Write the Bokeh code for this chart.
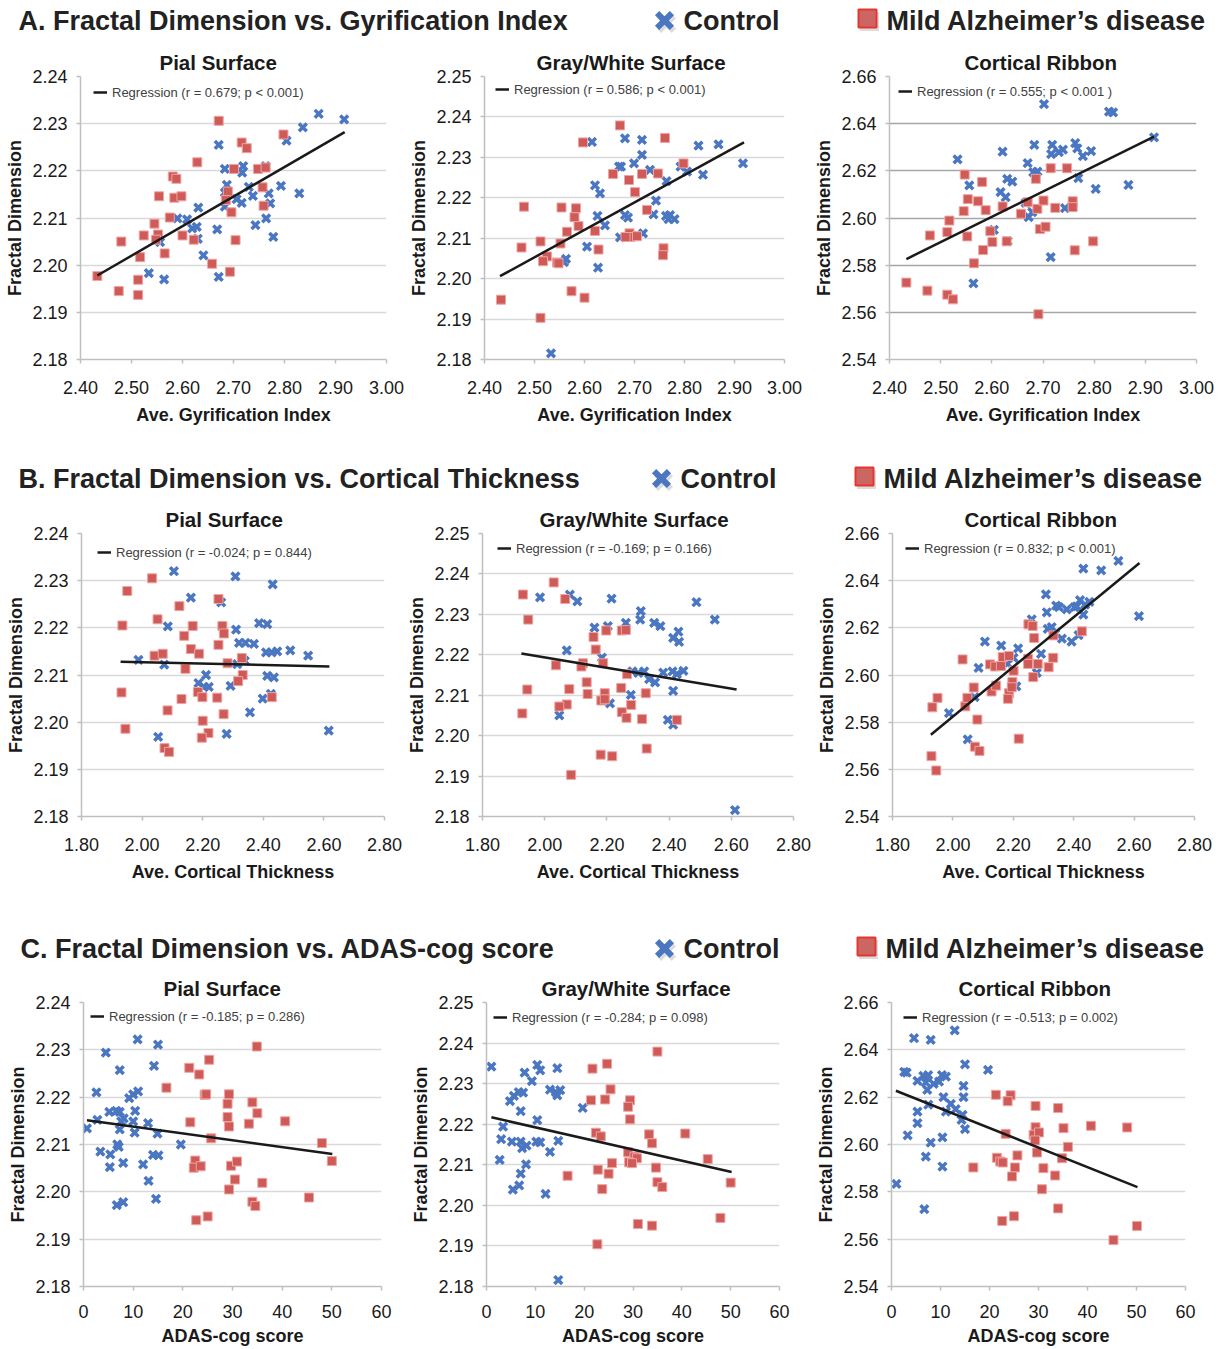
from bokeh.plotting import figure
from bokeh.layouts import column, row
from bokeh.models import Range1d, FixedTicker, NumeralTickFormatter, Legend, LegendItem
from bokeh.embed import file_html
from bokeh.resources import INLINE
from bokeh.core.properties import value

FONT = "Liberation Sans"
BLUE = "#4A76C2"
RED = "#CF5B58"
RED_EDGE = "#EFA4A2"
TXT = "#1a1a1a"

# ---------------- shared tick labels ----------------
gi_ticks = [2.40, 2.50, 2.60, 2.70, 2.80, 2.90, 3.00]
ct_ticks = [1.80, 2.00, 2.20, 2.40, 2.60, 2.80]
adas_ticks = [0, 10, 20, 30, 40, 50, 60]
pial_ticks = [2.18, 2.19, 2.20, 2.21, 2.22, 2.23, 2.24]
gw_ticks = [2.18, 2.19, 2.20, 2.21, 2.22, 2.23, 2.24, 2.25]
rib_ticks = [2.54, 2.56, 2.58, 2.60, 2.62, 2.64, 2.66]

# ---------------- A: gyrification index ----------------
A_pial_ctl_x = [2.867, 2.917, 2.836, 2.804, 2.671, 2.683, 2.719, 2.717, 2.763, 2.687, 2.730, 2.793, 2.738, 2.829, 2.769, 2.683, 2.706, 2.716, 2.772, 2.683, 2.631, 2.590, 2.609, 2.764, 2.619, 2.628, 2.668, 2.743, 2.630, 2.556, 2.778, 2.641, 2.534, 2.564, 2.671]
A_pial_ctl_y = [2.2321, 2.2309, 2.2292, 2.2264, 2.2255, 2.2204, 2.2210, 2.2196, 2.2210, 2.2170, 2.2166, 2.2168, 2.2147, 2.2152, 2.2152, 2.2154, 2.2140, 2.2132, 2.2131, 2.2124, 2.2122, 2.2099, 2.2097, 2.2099, 2.2078, 2.2081, 2.2076, 2.2085, 2.2056, 2.2049, 2.2060, 2.2021, 2.1983, 2.1970, 2.1975]
A_pial_ad_x = [2.671, 2.716, 2.726, 2.798, 2.629, 2.581, 2.588, 2.554, 2.584, 2.598, 2.701, 2.748, 2.763, 2.757, 2.689, 2.685, 2.759, 2.696, 2.575, 2.545, 2.524, 2.552, 2.600, 2.548, 2.622, 2.704, 2.480, 2.565, 2.517, 2.658, 2.693, 2.433, 2.513, 2.475, 2.513]
A_pial_ad_y = [2.2306, 2.2260, 2.2248, 2.2277, 2.2218, 2.2188, 2.2183, 2.2146, 2.2143, 2.2146, 2.2204, 2.2204, 2.2207, 2.2165, 2.2156, 2.2138, 2.2126, 2.2112, 2.2101, 2.2088, 2.2063, 2.2065, 2.2063, 2.2054, 2.2054, 2.2053, 2.2050, 2.2025, 2.2017, 2.2003, 2.1986, 2.1977, 2.1969, 2.1945, 2.1937]
A_pial_reg_x = [2.433, 2.918]
A_pial_reg_y = [2.1978, 2.2282]

A_gw_ctl_x = [2.615, 2.681, 2.715, 2.715, 2.868, 2.828, 2.917, 2.669, 2.673, 2.699, 2.731, 2.792, 2.805, 2.837, 2.764, 2.621, 2.631, 2.743, 2.626, 2.641, 2.681, 2.687, 2.738, 2.763, 2.768, 2.780, 2.771, 2.671, 2.717, 2.605, 2.563, 2.559, 2.627, 2.533]
A_gw_ctl_y = [2.2338, 2.2347, 2.2343, 2.2306, 2.2332, 2.2329, 2.2285, 2.2277, 2.2277, 2.2285, 2.2269, 2.2277, 2.2265, 2.2257, 2.2241, 2.2231, 2.2211, 2.2193, 2.2155, 2.2132, 2.2157, 2.2151, 2.2159, 2.2155, 2.2147, 2.2147, 2.2157, 2.2102, 2.2112, 2.2079, 2.2049, 2.2041, 2.2027, 2.1815]
A_gw_ad_x = [2.671, 2.597, 2.761, 2.798, 2.657, 2.715, 2.747, 2.689, 2.701, 2.479, 2.554, 2.583, 2.580, 2.725, 2.588, 2.565, 2.621, 2.474, 2.512, 2.552, 2.628, 2.758, 2.757, 2.525, 2.517, 2.545, 2.548, 2.690, 2.692, 2.705, 2.682, 2.433, 2.574, 2.600, 2.512]
A_gw_ad_y = [2.2379, 2.2337, 2.2348, 2.2285, 2.2259, 2.2259, 2.2260, 2.2244, 2.2214, 2.2178, 2.2176, 2.2174, 2.2152, 2.2170, 2.2130, 2.2116, 2.2118, 2.2077, 2.2092, 2.2087, 2.2072, 2.2075, 2.2058, 2.2055, 2.2043, 2.2040, 2.2038, 2.2112, 2.2103, 2.2105, 2.2103, 2.1948, 2.1969, 2.1953, 2.1903]
A_gw_reg_x = [2.431, 2.919]
A_gw_reg_y = [2.2006, 2.2337]

A_rib_ctl_x = [2.702, 2.829, 2.837, 2.917, 2.533, 2.621, 2.683, 2.718, 2.716, 2.731, 2.739, 2.763, 2.767, 2.778, 2.794, 2.769, 2.670, 2.681, 2.689, 2.556, 2.617, 2.627, 2.630, 2.640, 2.666, 2.672, 2.679, 2.743, 2.803, 2.867, 2.604, 2.631, 2.715, 2.564]
A_rib_ctl_y = [2.6483, 2.6451, 2.6448, 2.6342, 2.6249, 2.6281, 2.6310, 2.6310, 2.6271, 2.6279, 2.6290, 2.6318, 2.6295, 2.6262, 2.6284, 2.6169, 2.6233, 2.6194, 2.6197, 2.6138, 2.6110, 2.6088, 2.6166, 2.6154, 2.6064, 2.6004, 2.6025, 2.6042, 2.6123, 2.6140, 2.5950, 2.5902, 2.5834, 2.5723]
A_rib_ad_x = [2.433, 2.474, 2.513, 2.524, 2.479, 2.513, 2.517, 2.545, 2.547, 2.553, 2.552, 2.573, 2.581, 2.588, 2.583, 2.565, 2.597, 2.601, 2.621, 2.629, 2.657, 2.670, 2.686, 2.689, 2.694, 2.701, 2.705, 2.715, 2.724, 2.747, 2.758, 2.758, 2.762, 2.798, 2.691]
A_rib_ad_y = [2.5726, 2.5692, 2.5675, 2.5655, 2.5926, 2.5940, 2.5989, 2.6029, 2.6184, 2.6080, 2.5922, 2.6071, 2.6153, 2.6033, 2.5864, 2.5808, 2.5944, 2.5898, 2.6049, 2.5901, 2.6018, 2.6067, 2.6166, 2.6039, 2.5953, 2.6074, 2.5963, 2.6211, 2.6043, 2.6211, 2.6071, 2.6046, 2.5863, 2.5901, 2.5592]
A_rib_reg_x = [2.433, 2.917]
A_rib_reg_y = [2.5826, 2.6345]

# ---------------- B: cortical thickness ----------------
B_pial_ctl_x = [2.105, 2.308, 2.431, 2.161, 2.261, 2.085, 2.310, 2.386, 2.413, 2.320, 2.341, 2.369, 2.409, 2.428, 2.446, 2.489, 2.548, 1.988, 2.073, 2.314, 2.339, 2.211, 2.186, 2.204, 2.220, 2.292, 2.413, 2.435, 2.398, 2.425, 2.356, 2.053, 2.279, 2.616]
B_pial_ctl_y = [2.2320, 2.2309, 2.2292, 2.2264, 2.2254, 2.2203, 2.2196, 2.2210, 2.2208, 2.2168, 2.2168, 2.2166, 2.2148, 2.2148, 2.2150, 2.2152, 2.2141, 2.2132, 2.2122, 2.2123, 2.2130, 2.2100, 2.2083, 2.2075, 2.2075, 2.2077, 2.2098, 2.2095, 2.2050, 2.2060, 2.2021, 2.1969, 2.1975, 2.1982]
B_pial_ad_x = [2.033, 1.951, 2.123, 1.935, 2.051, 2.167, 2.139, 2.161, 2.188, 2.041, 2.068, 2.143, 2.252, 2.265, 2.270, 2.252, 2.282, 2.329, 2.332, 2.317, 1.932, 2.184, 2.199, 2.130, 2.248, 2.428, 2.084, 2.269, 2.200, 1.945, 2.219, 2.197, 2.074, 2.089]
B_pial_ad_y = [2.2305, 2.2278, 2.2246, 2.2205, 2.2218, 2.2204, 2.2183, 2.2155, 2.2145, 2.2141, 2.2145, 2.2113, 2.2261, 2.2204, 2.2188, 2.2164, 2.2125, 2.2136, 2.2100, 2.2087, 2.2063, 2.2064, 2.2053, 2.2049, 2.2052, 2.2053, 2.2025, 2.2017, 2.2003, 2.1986, 2.1977, 2.1967, 2.1945, 2.1937]
B_pial_reg_x = [1.929, 2.618]
B_pial_reg_y = [2.2128, 2.2118]

B_gw_ctl_x = [1.985, 2.081, 2.105, 2.215, 2.488, 2.309, 2.307, 2.547, 2.160, 2.203, 2.261, 2.352, 2.372, 2.413, 2.430, 2.432, 2.071, 2.184, 2.282, 2.301, 2.320, 2.336, 2.355, 2.381, 2.411, 2.425, 2.446, 2.277, 2.210, 2.413, 2.047, 2.396, 2.413, 2.612]
B_gw_ctl_y = [2.2342, 2.2349, 2.2332, 2.2339, 2.2330, 2.2308, 2.2287, 2.2287, 2.2267, 2.2271, 2.2279, 2.2279, 2.2271, 2.2242, 2.2257, 2.2232, 2.2211, 2.2193, 2.2159, 2.2155, 2.2159, 2.2140, 2.2132, 2.2156, 2.2159, 2.2152, 2.2160, 2.2101, 2.2080, 2.2111, 2.2050, 2.2039, 2.2027, 2.1816]
B_gw_ad_x = [2.029, 1.930, 2.066, 1.947, 2.198, 2.248, 2.261, 2.157, 2.164, 2.036, 2.123, 2.118, 2.188, 2.265, 2.135, 1.944, 2.079, 2.138, 2.246, 2.193, 2.325, 2.182, 2.193, 2.071, 2.047, 2.278, 1.928, 2.248, 2.263, 2.313, 2.425, 2.328, 2.180, 2.217, 2.085]
B_gw_ad_y = [2.2379, 2.2349, 2.2338, 2.2287, 2.2260, 2.2260, 2.2261, 2.2244, 2.2213, 2.2174, 2.2179, 2.2171, 2.2179, 2.2152, 2.2132, 2.2114, 2.2115, 2.2103, 2.2118, 2.2105, 2.2105, 2.2087, 2.2090, 2.2077, 2.2072, 2.2076, 2.2055, 2.2058, 2.2044, 2.2041, 2.2039, 2.1968, 2.1953, 2.1949, 2.1903]
B_gw_reg_x = [1.925, 2.617]
B_gw_reg_y = [2.2203, 2.2114]

B_rib_ctl_x = [2.548, 2.432, 2.491, 2.308, 2.616, 2.261, 2.311, 2.351, 2.377, 2.403, 2.421, 2.438, 2.452, 2.432, 2.410, 2.314, 2.327, 2.339, 2.361, 2.393, 2.416, 2.106, 2.160, 2.216, 2.201, 2.181, 2.292, 2.085, 2.278, 2.210, 2.072, 1.987, 2.049, 2.342]
B_rib_ctl_y = [2.6484, 2.6451, 2.6444, 2.6342, 2.6250, 2.6236, 2.6266, 2.6288, 2.6278, 2.6288, 2.6317, 2.6298, 2.6310, 2.6256, 2.6291, 2.6196, 2.6203, 2.6175, 2.6154, 2.6142, 2.6169, 2.6142, 2.6125, 2.6113, 2.6073, 2.6047, 2.6090, 2.6030, 2.6009, 2.5952, 2.5906, 2.5838, 2.5727, 2.6294]
B_rib_ad_x = [2.032, 1.932, 1.949, 1.929, 1.945, 2.041, 2.048, 2.069, 2.081, 2.073, 2.088, 2.123, 2.140, 2.128, 2.143, 2.165, 2.159, 2.186, 2.201, 2.197, 2.186, 2.182, 2.218, 2.250, 2.264, 2.269, 2.249, 2.249, 2.281, 2.266, 2.317, 2.332, 2.333, 2.427, 2.195]
B_rib_ad_y = [2.6066, 2.5863, 2.5903, 2.5656, 2.5595, 2.5867, 2.5903, 2.5947, 2.5811, 2.5696, 2.5678, 2.6045, 2.6036, 2.5930, 2.5955, 2.6076, 2.6038, 2.6081, 2.6018, 2.5970, 2.5923, 2.5899, 2.5730, 2.6215, 2.6208, 2.6157, 2.6069, 2.6047, 2.6047, 2.5991, 2.6033, 2.6073, 2.6168, 2.6185, 2.5948]
B_rib_reg_x = [1.927, 2.618]
B_rib_reg_y = [2.5747, 2.6475]

# ---------------- C: ADAS-cog ----------------
C_pial_ctl_x = [10.9, 15.0, 4.5, 14.2, 7.3, 2.6, 11.0, 10.0, 9.2, 0.7, 2.8, 5.2, 6.6, 7.3, 8.1, 10.4, 7.6, 10.0, 13.0, 7.3, 10.3, 14.9, 3.4, 5.4, 6.8, 7.1, 8.0, 12.0, 14.0, 15.1, 5.3, 13.1, 19.6, 14.6, 6.7, 8.0]
C_pial_ctl_y = [2.2322, 2.2311, 2.2294, 2.2266, 2.2257, 2.2210, 2.2212, 2.2206, 2.2198, 2.2134, 2.2152, 2.2169, 2.2171, 2.2169, 2.2155, 2.2171, 2.2149, 2.2149, 2.2145, 2.2132, 2.2125, 2.2123, 2.2085, 2.2079, 2.2100, 2.2095, 2.2061, 2.2058, 2.2078, 2.2077, 2.2052, 2.2023, 2.2100, 2.1985, 2.1972, 2.1978]
C_pial_ad_x = [34.9, 25.3, 21.3, 23.3, 16.7, 24.4, 24.7, 29.3, 29.0, 34.0, 35.0, 21.5, 29.0, 29.3, 33.3, 40.6, 25.7, 48.0, 50.0, 22.5, 22.2, 23.6, 29.7, 30.9, 30.5, 29.3, 36.0, 34.0, 34.6, 45.4, 22.7, 25.0]
C_pial_ad_y = [2.2307, 2.2279, 2.2262, 2.2248, 2.2220, 2.2205, 2.2206, 2.2206, 2.2186, 2.2189, 2.2166, 2.2147, 2.2158, 2.2138, 2.2144, 2.2149, 2.2113, 2.2103, 2.2065, 2.2066, 2.2051, 2.2054, 2.2055, 2.2064, 2.2026, 2.2005, 2.2019, 2.1979, 2.1970, 2.1988, 2.1940, 2.1948]
C_pial_reg_x = [0.7, 50.1]
C_pial_reg_y = [2.2151, 2.2080]

C_gw_ctl_x = [1.0, 10.4, 14.5, 7.8, 11.0, 9.3, 13.0, 15.1, 14.5, 4.8, 5.6, 6.6, 7.5, 7.0, 19.7, 10.4, 3.4, 3.0, 5.2, 7.0, 7.3, 8.2, 10.2, 11.0, 14.7, 13.0, 2.7, 8.1, 7.0, 6.7, 5.4, 12.1, 14.7, 14.2]
C_gw_ctl_y = [2.2342, 2.2346, 2.2338, 2.2327, 2.2333, 2.2306, 2.2285, 2.2284, 2.2271, 2.2257, 2.2270, 2.2279, 2.2278, 2.2232, 2.2240, 2.2210, 2.2194, 2.2163, 2.2157, 2.2157, 2.2141, 2.2147, 2.2157, 2.2155, 2.2159, 2.2132, 2.2112, 2.2101, 2.2078, 2.2049, 2.2039, 2.2028, 2.1816, 2.2279]
C_gw_ad_x = [35.0, 21.7, 24.7, 25.4, 21.4, 24.3, 29.4, 29.0, 29.4, 22.4, 23.4, 33.3, 40.7, 33.9, 29.0, 30.3, 30.8, 45.3, 29.2, 29.8, 25.7, 34.7, 16.6, 22.8, 25.0, 35.0, 36.0, 50.0, 23.7, 47.9, 31.0, 33.9, 22.7]
C_gw_ad_y = [2.2379, 2.2337, 2.2349, 2.2286, 2.2259, 2.2261, 2.2259, 2.2243, 2.2212, 2.2179, 2.2170, 2.2175, 2.2177, 2.2153, 2.2131, 2.2120, 2.2116, 2.2114, 2.2106, 2.2104, 2.2104, 2.2093, 2.2073, 2.2088, 2.2078, 2.2057, 2.2045, 2.2056, 2.2040, 2.1969, 2.1954, 2.1950, 2.1904]
C_gw_reg_x = [1.0, 50.2]
C_gw_reg_y = [2.2217, 2.2082]

C_rib_ctl_x = [12.9, 4.6, 8.0, 15.0, 19.7, 2.6, 3.1, 6.5, 7.5, 10.3, 11.1, 5.3, 7.0, 8.6, 9.7, 7.3, 14.7, 10.6, 14.7, 12.1, 7.5, 11.1, 5.3, 13.1, 14.5, 14.3, 5.3, 15.0, 3.3, 10.4, 8.0, 7.0, 10.4, 1.0, 6.7]
C_rib_ctl_y = [2.6482, 2.6449, 2.6442, 2.6339, 2.6315, 2.6307, 2.6304, 2.6290, 2.6293, 2.6293, 2.6287, 2.6269, 2.6262, 2.6256, 2.6266, 2.6231, 2.6248, 2.6200, 2.6200, 2.6172, 2.6168, 2.6139, 2.6139, 2.6149, 2.6125, 2.6104, 2.6090, 2.6065, 2.6039, 2.6030, 2.6008, 2.5949, 2.5907, 2.5834, 2.5727]
C_rib_ad_x = [21.3, 24.3, 23.7, 29.4, 34.0, 29.4, 35.1, 40.7, 48.1, 23.3, 29.0, 30.1, 29.3, 36.0, 29.7, 21.5, 22.2, 22.7, 25.7, 34.8, 16.7, 25.2, 31.0, 24.6, 33.4, 30.7, 34.0, 22.6, 25.0, 50.1, 45.3]
C_rib_ad_y = [2.6210, 2.6208, 2.6183, 2.6163, 2.6154, 2.6073, 2.6069, 2.6079, 2.6072, 2.6045, 2.6041, 2.6051, 2.6017, 2.5990, 2.5966, 2.5944, 2.5928, 2.5924, 2.5954, 2.5942, 2.5903, 2.5903, 2.5900, 2.5865, 2.5869, 2.5811, 2.5730, 2.5677, 2.5697, 2.5656, 2.5596]
C_rib_reg_x = [0.9, 50.2]
C_rib_reg_y = [2.6227, 2.5820]

# ---------------- texts ----------------
section_titles = ["A. Fractal Dimension vs. Gyrification Index",
                  "B. Fractal Dimension vs. Cortical Thickness",
                  "C. Fractal Dimension vs. ADAS-cog score"]
group_names = ["Control", "Mild Alzheimer\u2019s disease"]
panel_titles = ["Pial Surface", "Gray/White Surface", "Cortical Ribbon"]
x_labels = ["Ave. Gyrification Index", "Ave. Cortical Thickness", "ADAS-cog score"]
y_label = "Fractal Dimension"
reg_labels = [
    ["Regression (r = 0.679; p < 0.001)", "Regression (r = 0.586; p < 0.001)", "Regression (r = 0.555; p < 0.001 )"],
    ["Regression (r = -0.024; p = 0.844)", "Regression (r = -0.169; p = 0.166)", "Regression (r = 0.832; p < 0.001)"],
    ["Regression (r = -0.185; p = 0.286)", "Regression (r = -0.284; p = 0.098)", "Regression (r = -0.513; p = 0.002)"],
]

# ---------------- layout parameters (pixels) ----------------
ROW_COL_W = [[404, 405, 413], [402, 410, 410], [401, 407, 414]]
ROW_H = [400, 397, 380]
ROW_TB = [(34, 83), (33, 81), (34, 62)]   # shared top / bottom border per row
HEAD_H = [42, 58, 71]
# per panel: min_border left, right, title left offset, legend x, legend y-center (from frame top)
GEOM = [
    [(80, 18, 79, 13, 16), (80, 25, 52, 11, 13), (80, 26, 75, 9, 15)],
    [(81, 18, 84, 16, 19), (80, 19, 57, 15, 15), (80, 28, 72, 13, 15)],
    [(83, 20, 80, 7, 14), (85, 29, 55, 7, 15), (83, 37, 67, 12, 15)],
]
HEAD_POS = [  # title x, center y, control key x, AD key x
    (18, 20, 664, 867),
    (18, 36, 661, 864),
    (20, 51, 664, 866),
]


def make_panel(r, c, title, xlabel, xr, xticks, xfmt, yr, yticks,
               cx, cy, ax_, ay_, rx, ry, reg_label, grid_color):
    ml, mr, toff, lx, lyc = GEOM[r][c]
    mt, mb = ROW_TB[r]
    w, h = ROW_COL_W[r][c], ROW_H[r]
    p = figure(width=w, height=h, x_range=Range1d(*xr), y_range=Range1d(*yr),
               output_backend="svg", toolbar_location=None, title=title,
               min_border_left=ml, min_border_right=mr, min_border_top=mt, min_border_bottom=mb)
    p.outline_line_color = None
    p.background_fill_color = "white"
    p.title.align = "left"
    p.title.offset = toff
    p.title.standoff = 5
    p.title.text_font = FONT
    p.title.text_font_size = "20.5px"
    p.title.text_font_style = "bold"
    p.title.text_color = TXT

    p.xaxis.ticker = FixedTicker(ticks=xticks)
    p.yaxis.ticker = FixedTicker(ticks=yticks)
    p.xaxis.formatter = NumeralTickFormatter(format=xfmt)
    p.yaxis.formatter = NumeralTickFormatter(format="0.00")
    p.xaxis.axis_label = xlabel
    p.yaxis.axis_label = y_label
    for axis in (p.xaxis[0], p.yaxis[0]):
        axis.major_tick_in = 0
        axis.major_tick_out = 4
        axis.minor_tick_in = 0
        axis.minor_tick_out = 0
        axis.axis_line_color = "#BFBFBF"
        axis.axis_line_width = 1.5
        axis.major_tick_line_color = "#BFBFBF"
        axis.major_tick_line_width = 1.5
        axis.major_label_text_font = FONT
        axis.major_label_text_font_size = "18px"
        axis.major_label_text_color = TXT
        axis.axis_label_text_font = FONT
        axis.axis_label_text_font_size = "18px"
        axis.axis_label_text_font_style = "bold"
        axis.axis_label_text_color = TXT
    p.yaxis.major_label_standoff = 9
    p.yaxis.axis_label_standoff = 4
    if r < 2:
        p.xaxis.major_label_standoff = 17
        p.xaxis.axis_label_standoff = 8
    else:
        p.xaxis.major_label_standoff = 14
        p.xaxis.axis_label_standoff = 5
    p.xgrid.visible = False
    p.ygrid.grid_line_color = grid_color
    p.ygrid.grid_line_width = 1.5

    p.scatter(cx, cy, marker="x", size=11, line_color=BLUE, line_width=3.5)
    p.scatter(ax_, ay_, marker="square", size=9, fill_color=RED, line_color=RED_EDGE, line_width=1)
    ln = p.line(rx, ry, line_color="#1a1a1a", line_width=2.5)

    frame_h = h - mt - mb
    legend = Legend(items=[LegendItem(label=reg_label, renderers=[ln])],
                    location=(lx, frame_h - lyc - 10),
                    border_line_color=None, background_fill_alpha=0,
                    padding=0, margin=0, spacing=0,
                    glyph_width=14, glyph_height=20, label_height=20, label_standoff=5,
                    label_text_font=FONT, label_text_font_size="13px", label_text_color="#404040")
    p.add_layout(legend)
    return p


def make_header(r):
    h = HEAD_H[r]
    tx, ty, kx1, kx2 = HEAD_POS[r]
    W = sum(ROW_COL_W[r])
    p = figure(width=W, height=h, x_range=Range1d(0, W), y_range=Range1d(h, 0),
               output_backend="svg", toolbar_location=None, x_axis_type=None, y_axis_type=None,
               min_border=0)
    p.outline_line_color = None
    p.grid.visible = False
    common = dict(text_font=value(FONT), text_font_size=value("27px"), text_font_style="bold",
                  text_color="#222222", text_baseline="middle", text_align="left")
    p.text(x=[tx], y=[ty], text=[section_titles[r]], **common)
    # legend keys with soft shadow
    p.scatter(x=[kx1 + 2], y=[ty + 3], marker="x", size=21, line_color="#9a9a9a", line_alpha=0.35, line_width=6)
    p.scatter(x=[kx1], y=[ty], marker="x", size=21, line_color=BLUE, line_width=6)
    p.text(x=[kx1 + 19], y=[ty], text=[group_names[0]], **common)
    p.scatter(x=[kx2 + 2], y=[ty + 1], marker="square", size=19, fill_color="#9a9a9a", fill_alpha=0.35, line_color=None)
    p.scatter(x=[kx2], y=[ty - 2], marker="square", size=18, fill_color="#CC6663", line_color="#E8342F", line_width=2)
    p.text(x=[kx2 + 19], y=[ty], text=[group_names[1]], **common)
    return p


ranges_x = [((2.40, 3.00), gi_ticks, "0.00"), ((1.80, 2.80), ct_ticks, "0.00"), ((0, 60), adas_ticks, "0")]
ranges_y = [((2.18, 2.24), pial_ticks), ((2.18, 2.25), gw_ticks), ((2.54, 2.66), rib_ticks)]
DATA = [
    [(A_pial_ctl_x, A_pial_ctl_y, A_pial_ad_x, A_pial_ad_y, A_pial_reg_x, A_pial_reg_y),
     (A_gw_ctl_x, A_gw_ctl_y, A_gw_ad_x, A_gw_ad_y, A_gw_reg_x, A_gw_reg_y),
     (A_rib_ctl_x, A_rib_ctl_y, A_rib_ad_x, A_rib_ad_y, A_rib_reg_x, A_rib_reg_y)],
    [(B_pial_ctl_x, B_pial_ctl_y, B_pial_ad_x, B_pial_ad_y, B_pial_reg_x, B_pial_reg_y),
     (B_gw_ctl_x, B_gw_ctl_y, B_gw_ad_x, B_gw_ad_y, B_gw_reg_x, B_gw_reg_y),
     (B_rib_ctl_x, B_rib_ctl_y, B_rib_ad_x, B_rib_ad_y, B_rib_reg_x, B_rib_reg_y)],
    [(C_pial_ctl_x, C_pial_ctl_y, C_pial_ad_x, C_pial_ad_y, C_pial_reg_x, C_pial_reg_y),
     (C_gw_ctl_x, C_gw_ctl_y, C_gw_ad_x, C_gw_ad_y, C_gw_reg_x, C_gw_reg_y),
     (C_rib_ctl_x, C_rib_ctl_y, C_rib_ad_x, C_rib_ad_y, C_rib_reg_x, C_rib_reg_y)],
]

items = []
for r in range(3):
    items.append(make_header(r))
    xr, xt, xf = ranges_x[r]
    figs = []
    for c in range(3):
        yr, yt = ranges_y[c]
        cx, cy, ax_, ay_, rx, ry = DATA[r][c]
        grid = "#A6A6A6" if (r == 0 and c == 2) else "#D9D9D9"
        figs.append(make_panel(r, c, panel_titles[c], x_labels[r], xr, xt, xf, yr, yt,
                               cx, cy, ax_, ay_, rx, ry, reg_labels[r][c], grid))
    items.append(row(*figs))

layout = column(*items)
open("out.html", "w").write(file_html(layout, INLINE))
